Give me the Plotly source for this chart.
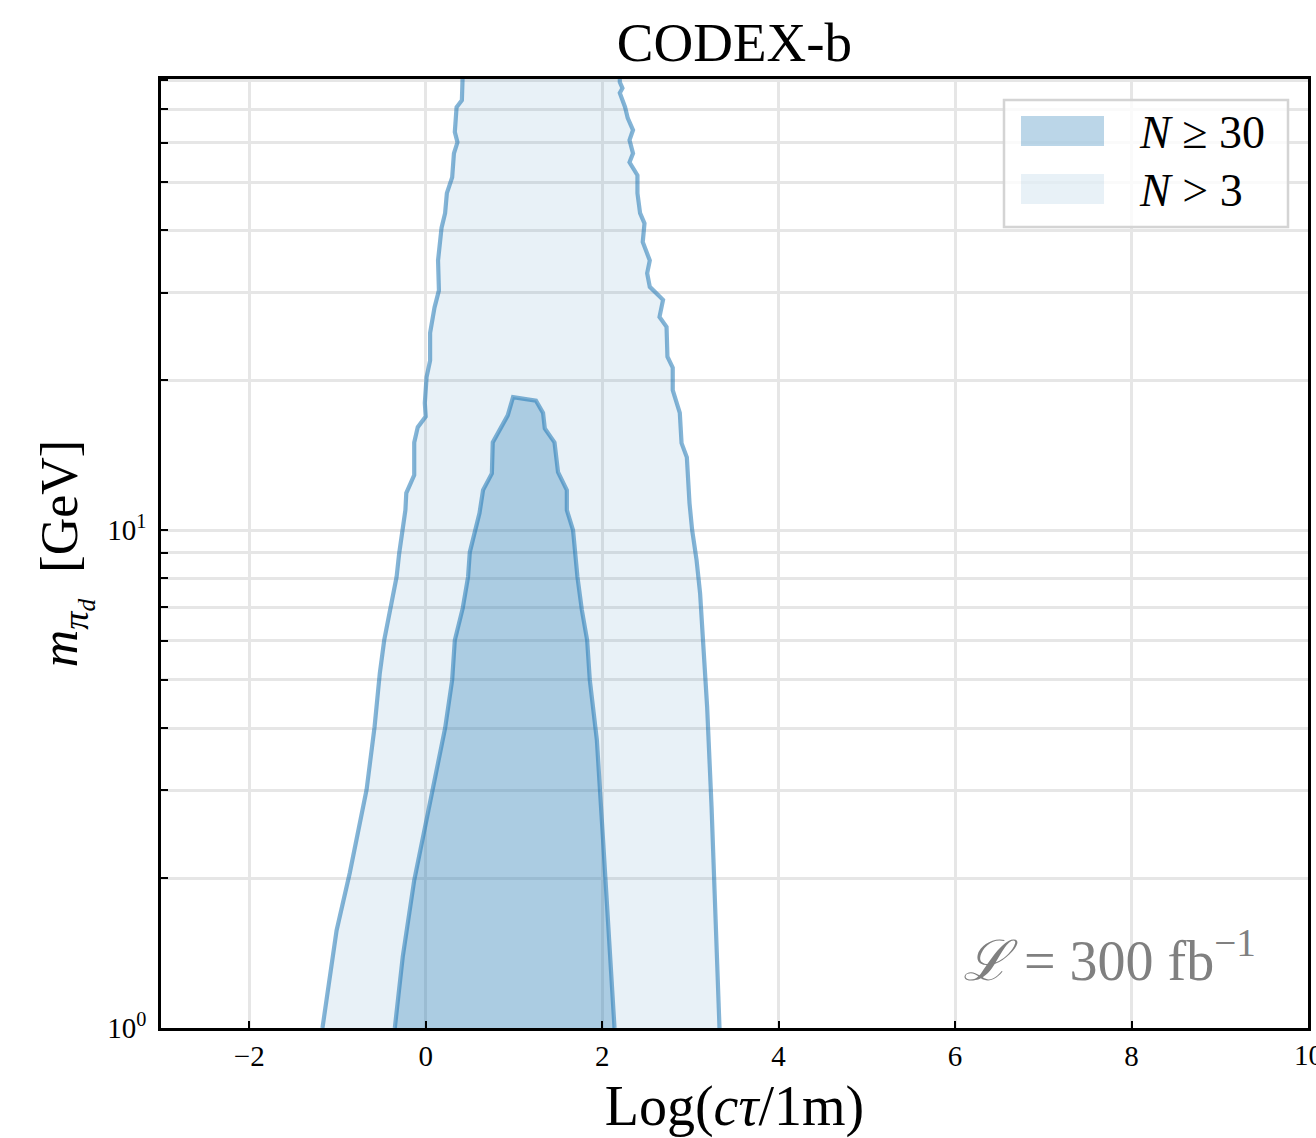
import plotly.graph_objects as go

# ---- data ----
# N > 3 region: left and right boundaries, from bottom to top
n3_left_x = [-1.17, -1.01, -0.86, -0.67, -0.58, -0.52, -0.47, -0.44, -0.39, -0.33, -0.30, -0.26,
             -0.23, -0.22, -0.13, -0.13, -0.09, 0.00, -0.01, 0.01, 0.05, 0.05, 0.10, 0.15, 0.14,
             0.18, 0.22, 0.24, 0.30, 0.32, 0.36, 0.33, 0.35, 0.41, 0.42, 0.42, 0.42]
n3_left_m = [1.0, 1.57, 2.05, 3.01, 4.02, 5.16, 6.01, 6.38, 7.0, 8.05, 8.99, 10.14,
             10.97, 11.87, 12.9, 15.0, 16.1, 16.9, 18.0, 20.3, 21.9, 24.9, 28.0, 30.3, 34.8,
             40.5, 43.3, 47.5, 51.1, 57.1, 60.1, 63.0, 70.7, 73.0, 77.6, 80.5, 83.0]
n3_right_x = [3.33, 3.28, 3.24, 3.19, 3.14, 3.11, 3.07, 3.02, 2.99, 2.96, 2.90, 2.88,
              2.80, 2.80, 2.74, 2.73, 2.65, 2.69, 2.54, 2.51, 2.54, 2.46, 2.48, 2.43,
              2.40, 2.40, 2.31, 2.35, 2.31, 2.35, 2.29, 2.26, 2.20, 2.23, 2.20, 2.20, 2.20]
n3_right_m = [1.0, 1.89, 2.78, 4.41, 6.01, 7.47, 8.71, 10.0, 11.33, 14.0, 14.95, 17.2,
              19.1, 21.2, 22.3, 25.6, 26.8, 29.0, 30.8, 32.8, 34.8, 37.9, 41.3, 43.3,
              47.5, 51.6, 54.8, 57.1, 60.7, 63.6, 67.2, 70.7, 75.5, 77.2, 79.4, 80.5, 83.0]

# N >= 30 region: closed contour from bottom-left, over the peak, to bottom-right
n30_x = [-0.35, -0.26, -0.13, 0.08, 0.22, 0.30, 0.33, 0.42, 0.48, 0.50, 0.61, 0.65, 0.75,
         0.76, 0.93, 0.99, 1.25, 1.33, 1.35, 1.46, 1.50, 1.60, 1.60, 1.67, 1.72, 1.77,
         1.83, 1.86, 1.94, 2.01, 2.06, 2.14]
n30_m = [1.0, 1.39, 1.98, 3.01, 4.0, 5.0, 6.01, 6.97, 8.05, 9.03, 10.82, 12.03, 13.0,
         15.0, 17.0, 18.5, 18.2, 17.2, 16.0, 15.0, 13.07, 12.03, 10.97, 10.0, 8.05, 6.91,
         6.01, 5.0, 3.79, 2.39, 1.75, 1.0]

x_ticks = [-2, 0, 2, 4, 6, 8, 10]
x_tick_text = ["\u22122", "0", "2", "4", "6", "8", "10"]
y_ticks = [1, 10]
y_tick_text = ["10<sup>0</sup>", "10<sup>1</sup>"]
y_minor_ticks = [2, 3, 4, 5, 6, 7, 8, 9, 20, 30, 40, 50, 60, 70, 80]

legend_labels = ["<i>N</i> \u2265 30", "<i>N</i> > 3"]
lumi_text = "<i>\u2112</i> = 300 fb<sup>\u22121</sup>"

# ---- styles ----
C0 = "31,119,180"
FONT = "Liberation Serif"
light_fill = f"rgba({C0},0.10)"
dark_fill = f"rgba({C0},0.30)"
edge = f"rgba({C0},0.55)"
GRID = "#e6e6e6"
TICK_SIZE = 29

fig = go.Figure()

# light region fill
fig.add_trace(go.Scatter(
    x=n3_left_x + n3_right_x[::-1], y=n3_left_m + n3_right_m[::-1],
    mode="lines", fill="toself", fillcolor=light_fill,
    line=dict(width=0), showlegend=False, hoverinfo="skip"))
# light region outlines
fig.add_trace(go.Scatter(
    x=n3_left_x + [None] + n3_right_x, y=n3_left_m + [None] + n3_right_m,
    mode="lines", line=dict(color=edge, width=4.2), showlegend=False, hoverinfo="skip"))
# dark region
fig.add_trace(go.Scatter(
    x=n30_x, y=n30_m, mode="lines", fill="toself", fillcolor=dark_fill,
    line=dict(color=edge, width=4.2), showlegend=False, hoverinfo="skip"))

L, R, T, B = 161, 8, 79, 110
W, H = 1316, 1138
pw, ph = W - L - R, H - T - B

def px_x(p):
    return (p - L) / pw

def px_y(p):
    return (H - B - p) / ph

shapes = [
    dict(type="rect", xref="paper", yref="paper",
         x0=px_x(1004), x1=px_x(1288), y0=px_y(227), y1=px_y(100),
         line=dict(color="#d4d4d4", width=2.5), fillcolor="rgba(255,255,255,0.8)", layer="above"),
    dict(type="rect", xref="paper", yref="paper",
         x0=px_x(1021), x1=px_x(1104), y0=px_y(146), y1=px_y(116),
         line=dict(width=0), fillcolor=dark_fill, layer="above"),
    dict(type="rect", xref="paper", yref="paper",
         x0=px_x(1021), x1=px_x(1104), y0=px_y(204), y1=px_y(174),
         line=dict(width=0), fillcolor=light_fill, layer="above"),
]

annotations = [
    dict(text=legend_labels[0], xref="paper", yref="paper", x=px_x(1137), y=px_y(133),
         xanchor="left", yanchor="middle", showarrow=False,
         font=dict(family=FONT, size=46, color="black")),
    dict(text=legend_labels[1], xref="paper", yref="paper", x=px_x(1137), y=px_y(190),
         xanchor="left", yanchor="middle", showarrow=False,
         font=dict(family=FONT, size=46, color="black")),
    dict(text=lumi_text, xref="paper", yref="paper", x=px_x(1258), y=px_y(956),
         xanchor="right", yanchor="middle", showarrow=False,
         font=dict(family=FONT, size=56, color="#808080")),
    # last x tick label (plotly hides it because it runs past the page edge)
    dict(text=x_tick_text[-1], xref="x", yref="paper", x=x_ticks[-1], y=px_y(1055),
         xanchor="center", yanchor="middle", showarrow=False,
         font=dict(family=FONT, size=TICK_SIZE, color="black")),
]

fig.update_layout(
    width=W, height=H,
    margin=dict(l=L, r=R, t=T, b=B, autoexpand=False),
    paper_bgcolor="white", plot_bgcolor="white",
    font=dict(family=FONT, color="black"),
    title=dict(text="CODEX-b", xref="paper", x=0.5, xanchor="center",
               yref="container", y=1 - 42 / H, yanchor="middle",
               font=dict(family=FONT, size=55, color="black")),
    shapes=shapes, annotations=annotations, showlegend=False,
)

fig.update_xaxes(
    range=[-3, 10], automargin=False, tickmode="array", tickvals=x_ticks, ticktext=x_tick_text,
    ticks="inside", ticklen=7, tickwidth=2, tickcolor="black",
    showline=True, linecolor="black", linewidth=2.5, mirror=True,
    showgrid=True, gridcolor=GRID, gridwidth=3, zeroline=False,
    tickfont=dict(family=FONT, size=TICK_SIZE, color="black"),
    title=dict(text="Log(<i>c\u03c4</i>/1m)", standoff=16,
               font=dict(family=FONT, size=56, color="black")),
)
fig.update_yaxes(
    type="log", range=[0, 1.906], automargin=False, tickmode="array",
    tickvals=y_ticks, ticktext=y_tick_text, ticklabelstandoff=6,
    ticks="inside", ticklen=7, tickwidth=2, tickcolor="black",
    showline=True, linecolor="black", linewidth=2.5, mirror=True,
    showgrid=True, gridcolor=GRID, gridwidth=3, zeroline=False,
    minor=dict(tickmode="array", tickvals=y_minor_ticks, ticks="inside", ticklen=7,
               tickwidth=2, tickcolor="black", showgrid=True, gridcolor=GRID, gridwidth=3),
    tickfont=dict(family=FONT, size=TICK_SIZE, color="black"),
    title=dict(text="<i>m</i><sub><i>\u03c0<sub>d</sub></i></sub>  [GeV]", standoff=14,
               font=dict(family=FONT, size=52, color="black")),
)

fig.write_html("out.html")
